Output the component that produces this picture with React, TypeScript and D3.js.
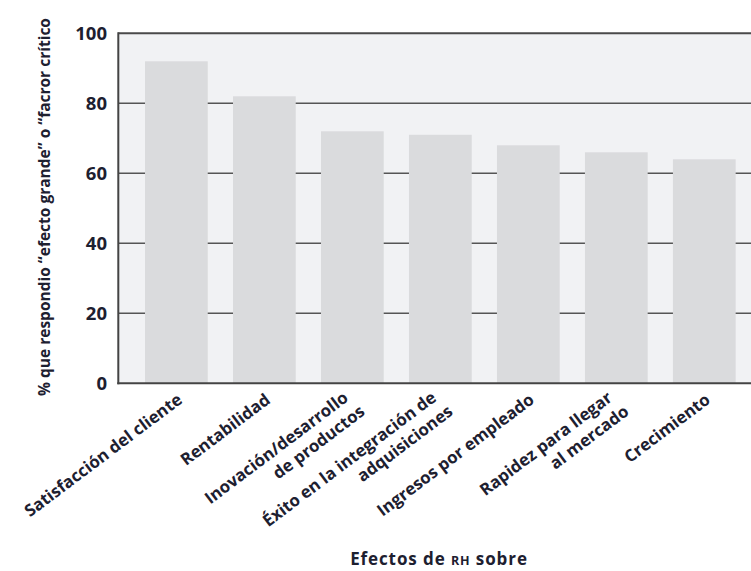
import React from "react";
import * as d3 from "d3";

const categories: string[][] = [
  ["Satisfacción del cliente"],
  ["Rentabilidad"],
  ["Inovación/desarrollo", "de productos"],
  ["Éxito en la integración de", "adquisiciones"],
  ["Ingresos por empleado"],
  ["Rapidez para llegar", "al mercado"],
  ["Crecimiento"],
];
const values: number[] = [92, 82, 72, 71, 68, 66, 64];
const yTicks: number[] = [0, 20, 40, 60, 80, 100];
const yTitle = "% que respondio \u201Cefecto grande\u201D o \u201Cfacror crítico";

const W = 751;
const H = 571;
const TEXT = "#1d2030";
const FONT = "'Open Sans', 'Noto Sans', sans-serif";
const ANGLE = -37;

export default function App() {
  const plotLeft = 118.3;
  const plotTop = 33.3;
  const plotBottom = 383.3;
  const y = d3.scaleLinear().domain([0, 100]).range([plotBottom, plotTop]);
  const keys = categories.map((_, i) => String(i));
  const step = 87.9;
  const x0 = 145 - 0.14 * step;
  const x = d3
    .scaleBand<string>()
    .domain(keys)
    .range([x0, x0 + 7 * step])
    .paddingInner(0.287)
    .paddingOuter(0.14);

  const rad = (ANGLE * Math.PI) / 180;
  const along = [Math.cos(rad), Math.sin(rad)];
  const perp = [-Math.sin(rad), Math.cos(rad)];

  return (
    <svg
      width={W}
      height={H}
      style={{ position: "absolute", left: 0, top: 0, background: "#fff" }}
      fontFamily={FONT}
    >
      <rect x={plotLeft} y={plotTop} width={W - plotLeft} height={plotBottom - plotTop} fill="#f1f2f4" />
      {yTicks.filter((t) => t > 0).map((t) => (
        <line
          key={t}
          x1={plotLeft}
          x2={W}
          y1={y(t)}
          y2={y(t)}
          stroke={t === 100 ? "#4a4a4a" : "#555"}
          strokeWidth={t === 100 ? 2 : 1.6}
        />
      ))}
      {values.map((v, i) => (
        <rect
          key={i}
          x={x(String(i))}
          y={y(v)}
          width={x.bandwidth()}
          height={plotBottom - y(v)}
          fill="#dadbdd"
        />
      ))}
      <line x1={plotLeft} x2={plotLeft} y1={plotTop - 1} y2={plotBottom + 1} stroke="#444" strokeWidth={2} />
      <line x1={plotLeft - 1} x2={W} y1={plotBottom} y2={plotBottom} stroke="#444" strokeWidth={2} />
      {yTicks.map((t) => (
        <text
          key={t}
          x={107}
          y={y(t)}
          dy="0.36em"
          textAnchor="end"
          fontSize={18.5}
          fontWeight={700}
          fill={TEXT}
        >
          {t}
        </text>
      ))}
      {categories.map((lines, i) => {
        const cx = (x(String(i)) as number) + x.bandwidth() / 2;
        let px = cx + 7;
        let py = 402;
        if (lines.length > 1) {
          px = cx - 3;
          py = 400;
        }
        return (
          <g key={i}>
            {lines.map((ln, k) => {
              const ex = px + k * (along[0] * 5 + perp[0] * 21);
              const ey = py + k * (along[1] * 5 + perp[1] * 21);
              return (
                <text
                  key={k}
                  transform={`translate(${ex},${ey}) rotate(${ANGLE})`}
                  textAnchor="end"
                  fontSize={16.8}
                  fontWeight={700}
                  fill={TEXT}
                >
                  {ln}
                </text>
              );
            })}
          </g>
        );
      })}
      <text
        transform={`translate(50,207) rotate(-90)`}
        textAnchor="middle"
        fontSize={15.5}
        fontWeight={700}
        fill={TEXT}
      >
        {yTitle}
      </text>
      <text
        x={439}
        y={565}
        textAnchor="middle"
        fontSize={17}
        fontWeight={700}
        letterSpacing={0.9}
        fill={TEXT}
      >
        Efectos de <tspan fontSize={12.5}>RH</tspan> sobre
      </text>
    </svg>
  );
}
